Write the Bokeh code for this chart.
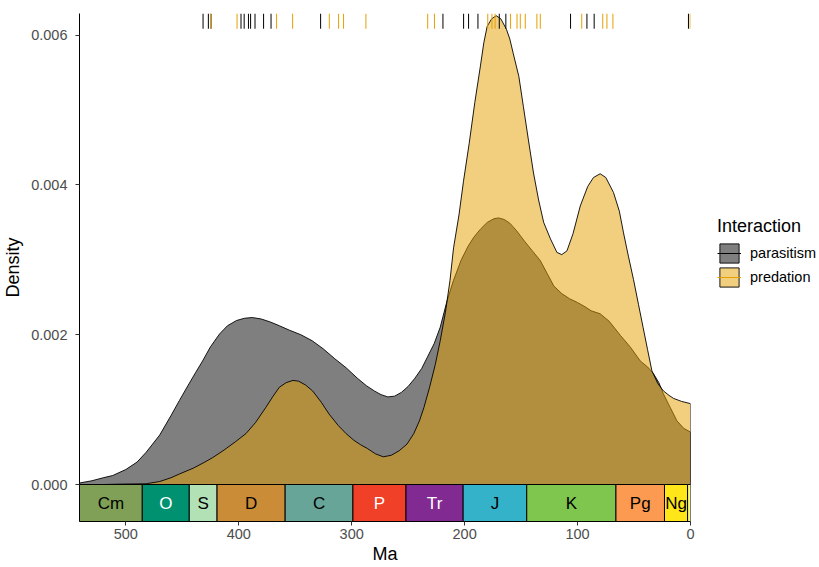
from bokeh.plotting import figure
from bokeh.layouts import row
from bokeh.models import Range1d, FixedTicker, NumeralTickFormatter, Legend, LegendItem
from bokeh.core.properties import value
from bokeh.embed import file_html
from bokeh.resources import INLINE

# ---------------- data ----------------
par_ma = [541, 530, 520, 511.6, 500, 490, 482, 470, 460, 452.6, 445, 438, 432, 425, 417, 410,
          402, 395, 388, 380, 372, 364, 355, 345, 335, 325, 315, 305, 295, 287, 280, 274,
          268, 262, 256, 250, 244, 238, 233, 227, 221.6, 215.6, 210, 203, 197, 192, 186,
          180, 174, 170, 165, 160, 154, 147, 140, 133, 127, 121, 114, 107, 100, 93, 88, 80,
          72, 62, 53, 44.5, 38, 32.8, 28, 24, 18, 12, 6, 0]
par_dens = [0.00002, 0.00005, 0.00009, 0.00012, 0.00020, 0.00030, 0.00043, 0.00066, 0.00092,
            0.00112, 0.00132, 0.00150, 0.00165, 0.00184, 0.00201, 0.00212, 0.00219, 0.00222,
            0.00223, 0.00221, 0.00217, 0.00212, 0.00206, 0.00200, 0.00192, 0.00181, 0.00168,
            0.00156, 0.00142, 0.00132, 0.00125, 0.00120, 0.00117, 0.00118, 0.00123, 0.00131,
            0.00142, 0.00155, 0.00170, 0.00188, 0.00210, 0.00245, 0.00272, 0.00300, 0.00318,
            0.00330, 0.00341, 0.00350, 0.00355, 0.00356, 0.00354, 0.00349, 0.00339, 0.00325,
            0.00312, 0.00299, 0.00282, 0.00265, 0.00255, 0.00248, 0.00243, 0.00237, 0.00232,
            0.00228, 0.00218, 0.00199, 0.00183, 0.00165, 0.00157, 0.00148, 0.00136, 0.00121,
            0.00103, 0.00085, 0.00075, 0.00070]

pred_ma = [541, 520, 505, 482, 470, 460, 452.6, 440, 430, 423, 413, 403, 393.6, 385, 376, 370,
           364, 358, 352, 347, 341, 334.6, 327, 320, 312, 305, 298, 292, 286, 279, 272, 265,
           258, 251, 245, 240, 236, 231, 226, 221.6, 217, 213, 209.8, 205, 201, 196, 191, 186,
           183, 180, 176, 172, 168, 163, 160, 157, 152, 148, 143.5, 139, 134.5, 130, 124,
           118.3, 114, 109.4, 104, 97.6, 91, 85.9, 80, 75, 68.2, 63, 59.3, 55, 50.5, 46, 42,
           38, 34.2, 29, 24, 19, 15, 8, 0]
pred_dens = [0.0, 0.0, 0.000005, 0.00001, 0.00004, 0.00009, 0.00014, 0.00022, 0.00030, 0.00036,
             0.00046, 0.00057, 0.00068, 0.00083, 0.00103, 0.00117, 0.00130, 0.00136, 0.00139,
             0.00138, 0.00133, 0.00125, 0.00110, 0.00094, 0.00079, 0.00068, 0.00059, 0.00053,
             0.00048, 0.00041, 0.00037, 0.00039, 0.00045, 0.00054, 0.00068, 0.00085, 0.00103,
             0.00130, 0.00160, 0.00192, 0.00230, 0.00272, 0.00316, 0.00360, 0.00405, 0.00455,
             0.00510, 0.00559, 0.00590, 0.00612, 0.00622, 0.00626, 0.00622, 0.00608, 0.00595,
             0.00576, 0.00545, 0.00505, 0.00460, 0.00416, 0.00380, 0.00350, 0.00328, 0.00310,
             0.00307, 0.00312, 0.00335, 0.00372, 0.00398, 0.00410, 0.00415, 0.00410, 0.00390,
             0.00365, 0.00336, 0.00305, 0.00274, 0.00240, 0.00210, 0.00180, 0.00152, 0.00135,
             0.00125, 0.00119, 0.00115, 0.00111, 0.00108]

par_rug = [431.6, 426.9, 424.6, 398, 395.2, 391.4, 389.5, 385.6, 378, 371.4, 327.5, 219.2,
           200.9, 196.5, 188.2, 169.3, 163.5, 106.2, 91.7, 85.3, 1.8]
pred_rug = [424.9, 401.5, 366.5, 352.3, 319.8, 311.6, 307.2, 287.4, 232.7, 226.7, 179.5,
            175.8, 173.0, 159.3, 153.6, 150.7, 146.3, 136.0, 133.0, 96.3, 77.7, 74.0, 68.7, 0.3]

period_abbr = ["Cm", "O", "S", "D", "C", "P", "Tr", "J", "K", "Pg", "Ng", ""]
period_start = [541, 485.4, 443.8, 419.2, 358.9, 298.9, 251.902, 201.3, 145, 66, 23.03, 2.58]
period_end = [485.4, 443.8, 419.2, 358.9, 298.9, 251.902, 201.3, 145, 66, 23.03, 2.58, 0]
period_color = ["#7FA056", "#009270", "#B3E1B6", "#CB8C37", "#67A599", "#F04028",
                "#812B92", "#34B2C9", "#7FC64E", "#FD9A52", "#FFE619", "#F9F97F"]
period_text_color = ["black", "white", "black", "black", "black", "white",
                     "white", "black", "black", "black", "black", "black"]

x_ticks = [500, 400, 300, 200, 100, 0]
y_ticks = [0.0, 0.002, 0.004, 0.006]
series_names = ["parasitism", "predation"]
series_fill = ["black", "#E69F00"]
series_rug = ["black", "#E69F00"]

# ---------------- main figure ----------------
Y_TOP = 0.00629
SCALE_BOTTOM = -0.000494
FONT = "Liberation Sans"

p = figure(width=696, height=567, output_backend="svg", toolbar_location=None,
           x_range=Range1d(541, 0), y_range=Range1d(SCALE_BOTTOM, Y_TOP),
           min_border_left=79, min_border_right=6, min_border_top=13, min_border_bottom=46)
p.grid.visible = False
p.outline_line_color = None

# densities (parasitism below, predation on top)
p.patch(x=par_ma + [par_ma[-1], par_ma[0]], y=par_dens + [0, 0],
        fill_color=series_fill[0], fill_alpha=0.5, line_color="black", line_width=0.9)
p.patch(x=pred_ma + [pred_ma[-1], pred_ma[0]], y=pred_dens + [0, 0],
        fill_color=series_fill[1], fill_alpha=0.5, line_color="black", line_width=0.9)

# time scale
p.quad(left=period_start, right=period_end, bottom=SCALE_BOTTOM, top=0,
       fill_color=period_color, line_color="black", line_width=1)
mids = [(a + b) / 2 for a, b in zip(period_start, period_end)]
p.text(x=mids, y=[SCALE_BOTTOM / 2] * len(mids), text=period_abbr, text_color=period_text_color,
       text_align="center", text_baseline="middle", text_font=value(FONT), text_font_size="17px")

# rugs
rug_len = 0.03 * (Y_TOP - SCALE_BOTTOM)
p.segment(x0=par_rug, x1=par_rug, y0=[Y_TOP] * len(par_rug), y1=[Y_TOP - rug_len] * len(par_rug),
          line_color=series_rug[0], line_width=1)
p.segment(x0=pred_rug, x1=pred_rug, y0=[Y_TOP] * len(pred_rug), y1=[Y_TOP - rug_len] * len(pred_rug),
          line_color=series_rug[1], line_width=1)

# axes
for ax in (p.xaxis[0], p.yaxis[0]):
    ax.axis_line_color = "black"
    ax.axis_line_width = 1
    ax.major_tick_line_color = "#333333"
    ax.major_tick_out = 4
    ax.major_tick_in = 0
    ax.minor_tick_line_color = None
    ax.major_label_text_color = "#4D4D4D"
    ax.major_label_text_font = FONT
    ax.major_label_text_font_size = "14.5px"
    ax.axis_label_text_font = FONT
    ax.axis_label_text_font_size = "18px"
    ax.axis_label_text_font_style = "normal"
    ax.axis_label_text_color = "black"

p.xaxis.ticker = FixedTicker(ticks=x_ticks)
p.xaxis.formatter = NumeralTickFormatter(format="0")
p.xaxis.axis_label = "Ma"
p.xaxis.major_label_standoff = 3
p.xaxis.axis_label_standoff = 2

p.yaxis.ticker = FixedTicker(ticks=y_ticks)
p.yaxis.formatter = NumeralTickFormatter(format="0.000")
p.yaxis.axis_label = "Density"
p.yaxis.major_label_standoff = 8
p.yaxis.axis_label_standoff = 5

# ---------------- legend figure ----------------
lp = figure(width=123, height=567, output_backend="svg", toolbar_location=None,
            x_range=Range1d(0, 1), y_range=Range1d(0, 1),
            x_axis_location=None, y_axis_location=None,
            min_border_left=0, min_border_right=0, min_border_top=0, min_border_bottom=0)
lp.grid.visible = False
lp.outline_line_color = None

# legend proxies: kept outside the visible range, only their legend keys show
items = []
for name, fc, rc in zip(series_names, series_fill, series_rug):
    a = lp.patch(x=[5, 6, 6], y=[5, 5, 6], fill_color=fc, fill_alpha=0.5,
                 line_color="black", line_width=0.9)
    s = lp.segment(x0=[5], x1=[6], y0=[5], y1=[5], line_color=rc, line_width=1)
    items.append(LegendItem(label=name, renderers=[a, s]))

legend = Legend(items=items, title="Interaction", location=(21, 232), padding=0, margin=0, spacing=0,
                glyph_width=24, glyph_height=24, label_standoff=9,
                border_line_alpha=0, background_fill_alpha=0,
                title_text_font=FONT, title_text_font_size="18px", title_text_font_style="normal",
                title_text_color="black", title_standoff=4,
                label_text_font=FONT, label_text_font_size="14.5px",
                label_text_color="black", label_height=20)
lp.add_layout(legend)

open("out.html", "w").write(file_html(row(p, lp), INLINE))
